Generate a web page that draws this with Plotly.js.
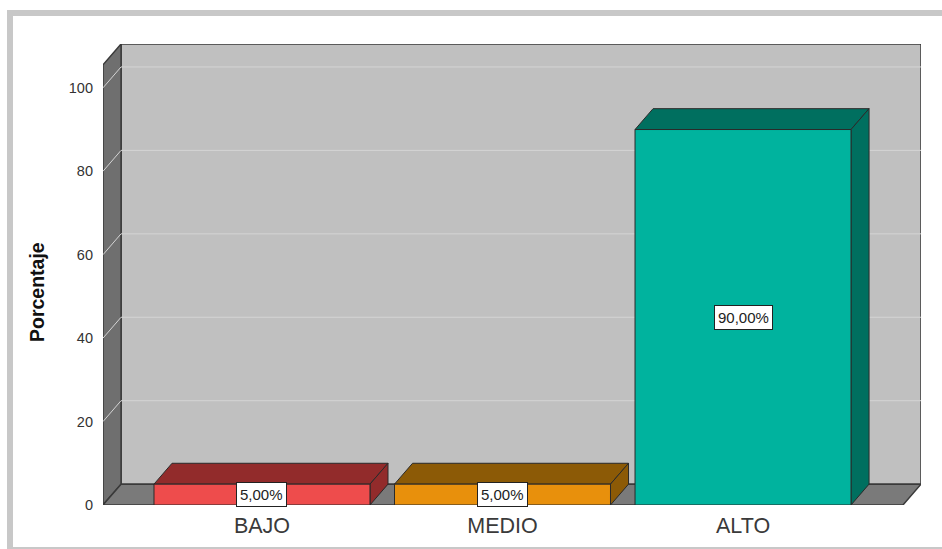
<!DOCTYPE html>
<html>
<head>
<meta charset="utf-8">
<script src="https://cdn.plot.ly/plotly-3.0.1.min.js"></script>
<style>
  html, body { margin: 0; padding: 0; background: #ffffff; }
  #chart { width: 942px; height: 549px; }
  #frame { position: absolute; left: 7px; top: 10px; width: 960px; height: 531px;
           border: 6px solid #c8c8c8; pointer-events: none; }
</style>
</head>
<body>
<div id="chart"></div>
<div id="frame"></div>
<script>
// ---- data ----
const categories = ['BAJO', 'MEDIO', 'ALTO'];
const percentages = [5, 5, 90];
const frontColors = ['#ee4c4c', '#e8900c', '#00b39e'];
const topColors   = ['#922b2b', '#8c5a06', '#006f5f'];
const yTickVals = [0, 20, 40, 60, 80, 100];
const yTitle = 'Porcentaje';

// ---- 3D geometry (data units) ----
const xL = -0.661, xR = 2.665;   // front floor extent
const dX = 0.075, dY = 5;        // depth offset
const wallTop = 105.5;           // front height of side wall
const halfW = 0.449;             // half bar width
const outline = '#2a2a2a';

const traces = [];
function poly(xs, ys, fill, lineColor, lw) {
  traces.push({
    type: 'scatter', mode: 'lines', x: xs.concat([xs[0]]), y: ys.concat([ys[0]]),
    fill: 'toself', fillcolor: fill, line: {color: lineColor, width: lw},
    hoverinfo: 'skip', showlegend: false
  });
}
function line(xs, ys, color, lw) {
  traces.push({type: 'scatter', mode: 'lines', x: xs, y: ys,
    line: {color: color, width: lw}, hoverinfo: 'skip', showlegend: false});
}

// back wall
poly([xL + dX, xR + dX, xR + dX, xL + dX], [dY, dY, wallTop + dY, wallTop + dY], '#c0c0c0', '#3a3a3a', 1.5);
// left wall
poly([xL, xL + dX, xL + dX, xL], [0, dY, wallTop + dY, wallTop], '#6f6f6f', '#3a3a3a', 1.5);
// floor
poly([xL, xR, xR + dX, xL + dX], [0, 0, dY, dY], '#7a7a7a', '#3a3a3a', 1.5);
// gridlines
yTickVals.slice(1).forEach(v => {
  line([xL, xL + dX, xR + dX], [v, v + dY, v + dY], '#d4d4d4', 1);
});

// bars
const annotations = [];
categories.forEach((c, i) => {
  const v = percentages[i];
  const a = i - halfW, b = i + halfW;
  poly([a, b, b + dX, a + dX], [v, v, v + dY, v + dY], topColors[i], outline, 1);
  poly([b, b + dX, b + dX, b], [0, dY, v + dY, v], topColors[i], outline, 1);
  poly([a, b, b, a], [0, 0, v, v], frontColors[i], outline, 1);
  annotations.push({
    x: i, y: v / 2, xref: 'x', yref: 'y', showarrow: false,
    text: v.toFixed(2).replace('.', ',') + '%',
    font: {family: 'Liberation Sans, Arial, sans-serif', size: 15, color: '#222'},
    bgcolor: '#ffffff', bordercolor: '#222', borderwidth: 1, borderpad: 3
  });
});

// y-axis title (placed as annotation to match position)
const marginL = 103, plotW = 942 - 103 - 21, plotH = 549 - 44 - 44;
annotations.push({
  text: '<b>' + yTitle + '</b>', textangle: -90, showarrow: false,
  xref: 'paper', yref: 'paper', x: (37 - marginL) / plotW, y: (505 - 292) / plotH,
  xanchor: 'center', yanchor: 'middle',
  font: {family: 'Liberation Sans, Arial, sans-serif', size: 19.5, color: '#111'}
});

const layout = {
  width: 942, height: 549,
  margin: {l: 103, r: 21, t: 44, b: 44},
  paper_bgcolor: 'rgba(0,0,0,0)', plot_bgcolor: 'rgba(0,0,0,0)',
  showlegend: false,
  font: {family: 'Liberation Sans, Arial, sans-serif', color: '#333'},
  xaxis: {
    range: [xL, xR + dX], showgrid: false, zeroline: false, showline: false,
    tickvals: categories.map((c, i) => i), ticktext: categories,
    tickfont: {size: 21.5, color: '#3a3a3a'}, ticks: '', ticklabelstandoff: 5,
    fixedrange: true
  },
  yaxis: {
    range: [0, wallTop + dY], showgrid: false, zeroline: false, showline: false,
    tickvals: yTickVals, ticktext: yTickVals.map(String),
    tickfont: {size: 14.5, color: '#333'}, ticks: '', ticklabelstandoff: 9,
    fixedrange: true
  },
  annotations: annotations
};

Plotly.newPlot('chart', traces, layout, {displayModeBar: false, staticPlot: true});
</script>
</body>
</html>
